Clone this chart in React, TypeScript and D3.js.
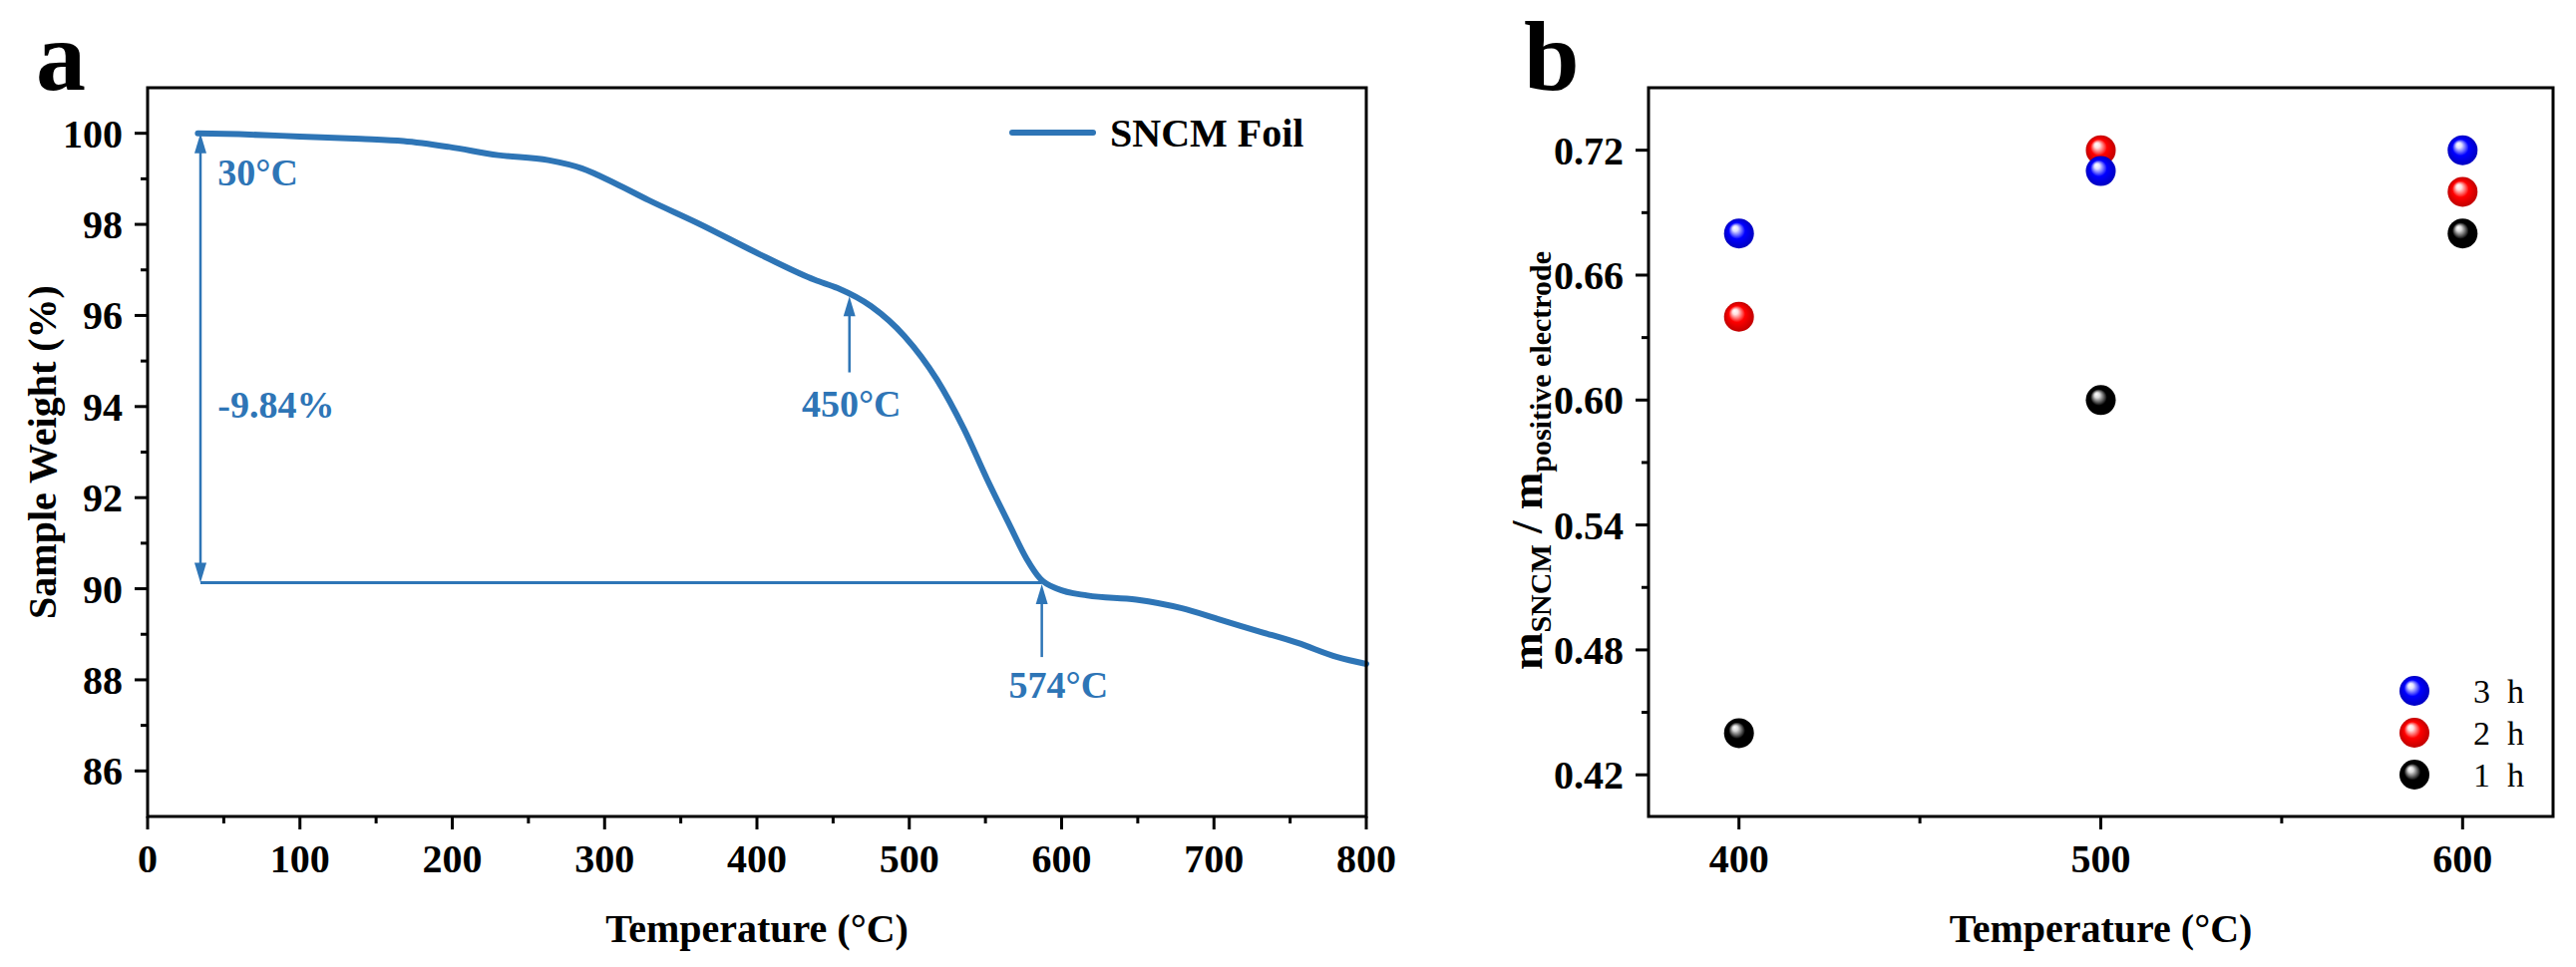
import * as d3 from 'd3';

// panel a: TGA curve, SNCM foil
const tgaTemp = [33, 60, 100, 140, 168, 198, 230, 263, 285, 307, 329, 361, 405, 438, 453, 475, 497, 518, 536, 551, 566, 577, 586, 597, 617, 649, 679, 704, 730, 755, 781, 800];
const tgaWeight = [100.0, 99.98, 99.93, 99.88, 99.83, 99.70, 99.52, 99.41, 99.23, 98.90, 98.53, 98.03, 97.29, 96.78, 96.60, 96.20, 95.54, 94.60, 93.50, 92.41, 91.39, 90.66, 90.22, 90.0, 89.85, 89.76, 89.57, 89.32, 89.06, 88.81, 88.5, 88.35];

// panel b: mass ratio vs temperature, per holding time
const bTemps = [400, 500, 600];
const ratio1h = [0.44, 0.60, 0.68];
const ratio2h = [0.64, 0.72, 0.70];
const ratio3h = [0.68, 0.71, 0.72];

const aXTicks = [0, 100, 200, 300, 400, 500, 600, 700, 800];
const aYTicks = [86, 88, 90, 92, 94, 96, 98, 100];
const bXTicks = [400, 500, 600];
const bYTicks = [0.42, 0.48, 0.54, 0.60, 0.66, 0.72];

const FONT = "'Liberation Serif', 'Times New Roman', serif";
const BLUE = '#2e75b6';

const top = 88;
const bottom = 819;

const xa = d3.scaleLinear().domain([0, 800]).range([148, 1370]);
const ya = d3.scaleLinear().domain([85, 101]).range([bottom, top]);
const xb = d3.scaleLinear().domain([375, 625]).range([1653, 2560]);
const yb = d3.scaleLinear().domain([0.40, 0.75]).range([bottom, top]);

function Frame({ x, y }: { x: d3.ScaleLinear<number, number>; y: d3.ScaleLinear<number, number> }) {
  const [l, r] = x.range();
  const [b, t] = y.range();
  return <rect x={l} y={t} width={r - l} height={b - t} fill="none" stroke="#000" strokeWidth={3} />;
}

function YAxis({ y, x0, major, minor, fmt }: { y: d3.ScaleLinear<number, number>; x0: number; major: number[]; minor: number[]; fmt: (v: number) => string }) {
  return (
    <g>
      {minor.map((v) => (
        <line key={'m' + v} x1={x0 - 7} x2={x0} y1={y(v)} y2={y(v)} stroke="#000" strokeWidth={3} />
      ))}
      {major.map((v) => (
        <g key={v}>
          <line x1={x0 - 13} x2={x0} y1={y(v)} y2={y(v)} stroke="#000" strokeWidth={3} />
          <text x={x0 - 25} y={y(v)} dy="0.35em" textAnchor="end" fontSize={40} fontWeight="bold">
            {fmt(v)}
          </text>
        </g>
      ))}
    </g>
  );
}

function XAxis({ x, y0, major, minor }: { x: d3.ScaleLinear<number, number>; y0: number; major: number[]; minor: number[] }) {
  return (
    <g>
      {minor.map((v) => (
        <line key={'m' + v} x1={x(v)} x2={x(v)} y1={y0} y2={y0 + 7} stroke="#000" strokeWidth={3} />
      ))}
      {major.map((v) => (
        <g key={v}>
          <line x1={x(v)} x2={x(v)} y1={y0} y2={y0 + 13} stroke="#000" strokeWidth={3} />
          <text x={x(v)} y={875} textAnchor="middle" fontSize={40} fontWeight="bold">
            {v}
          </text>
        </g>
      ))}
    </g>
  );
}

// vertical arrow in data coords; heads: 'up', 'down' or 'both'
function VArrow({ t, w1, w2, heads }: { t: number; w1: number; w2: number; heads: string }) {
  const px = xa(t);
  const p1 = ya(w1);
  const p2 = ya(w2);
  const hl = 20;
  const hw = 6;
  const yTop = Math.min(p1, p2);
  const yBot = Math.max(p1, p2);
  return (
    <g fill={BLUE} stroke="none">
      <line x1={px} x2={px} y1={yTop + (heads !== 'down' ? 8 : 0)} y2={yBot - (heads !== 'up' ? 8 : 0)} stroke={BLUE} strokeWidth={2.5} />
      {heads !== 'down' && <path d={`M${px},${yTop} L${px - hw},${yTop + hl} L${px + hw},${yTop + hl} Z`} />}
      {heads !== 'up' && <path d={`M${px},${yBot} L${px - hw},${yBot - hl} L${px + hw},${yBot - hl} Z`} />}
    </g>
  );
}

function Sphere({ cx, cy, id }: { cx: number; cy: number; id: string }) {
  return <circle cx={cx} cy={cy} r={15} fill={`url(#${id})`} />;
}

export default function App() {
  const line = d3
    .line<number>()
    .x((_, i) => xa(tgaTemp[i]))
    .y((d) => ya(d))
    .curve(d3.curveMonotoneX);

  const aMinorY = d3.range(87, 101, 2);
  const aMinorX = d3.range(50, 800, 100);
  const bMinorY = [0.45, 0.51, 0.57, 0.63, 0.69];
  const bMinorX = [450, 550];

  const series = [
    { id: 'g1', vals: ratio1h, label: '1  h', color: '#000000', hi: '#d8d8d8' },
    { id: 'g2', vals: ratio2h, label: '2  h', color: '#ff0000', hi: '#ffe0e0' },
    { id: 'g3', vals: ratio3h, label: '3  h', color: '#0000ff', hi: '#e0e0ff' },
  ];
  const legendOrder = [series[2], series[1], series[0]];

  return (
    <svg width={2583} height={970} style={{ position: 'absolute', left: 0, top: 0, background: '#fff' }} fontFamily={FONT}>
      <defs>
        {series.map((s) => (
          <radialGradient key={s.id} id={s.id} cx="50%" cy="50%" r="50%" fx="35%" fy="30%">
            <stop offset="0%" stopColor="#ffffff" />
            <stop offset="18%" stopColor={s.hi} />
            <stop offset="55%" stopColor={s.color} />
            <stop offset="100%" stopColor={d3.color(s.color)!.darker(0.8).toString()} />
          </radialGradient>
        ))}
      </defs>
      <rect width={2583} height={970} fill="#fff" />

      {/* panel a */}
      <text x={36} y={90} fontSize={100} fontWeight="bold">a</text>
      <path d={line(tgaWeight) || ''} fill="none" stroke={BLUE} strokeWidth={6} strokeLinejoin="round" strokeLinecap="round" />
      <VArrow t={34.7} w1={100} w2={90.13} heads="both" />
      <line x1={xa(34.7)} x2={xa(587)} y1={ya(90.13)} y2={ya(90.13)} stroke={BLUE} strokeWidth={3} />
      <VArrow t={460.7} w1={94.75} w2={96.42} heads="up" />
      <VArrow t={587} w1={88.5} w2={90.1} heads="up" />
      <g fill={BLUE} fontSize={38} fontWeight="bold">
        <text x={xa(46)} y={ya(98.86)}>30°C</text>
        <text x={xa(46)} y={ya(93.76)}>-9.84%</text>
        <text x={xa(462)} y={ya(93.78)} textAnchor="middle">450°C</text>
        <text x={xa(598)} y={ya(87.61)} textAnchor="middle">574°C</text>
      </g>
      <line x1={1015} x2={1096} y1={133} y2={133} stroke={BLUE} strokeWidth={6} strokeLinecap="round" />
      <text x={1113} y={147} fontSize={40} fontWeight="bold">SNCM Foil</text>
      <Frame x={xa} y={ya} />
      <YAxis y={ya} x0={148} major={aYTicks} minor={aMinorY} fmt={(v) => String(v)} />
      <XAxis x={xa} y0={bottom} major={aXTicks} minor={aMinorX} />
      <text transform={`translate(56, ${(top + bottom) / 2}) rotate(-90)`} textAnchor="middle" fontSize={40} fontWeight="bold">
        Sample Weight (%)
      </text>
      <text x={(148 + 1370) / 2} y={945} textAnchor="middle" fontSize={40} fontWeight="bold">
        Temperature (°C)
      </text>

      {/* panel b */}
      <text x={1528} y={90} fontSize={100} fontWeight="bold">b</text>
      <Frame x={xb} y={yb} />
      <YAxis y={yb} x0={1653} major={bYTicks} minor={bMinorY} fmt={(v) => v.toFixed(2)} />
      <XAxis x={xb} y0={bottom} major={bXTicks} minor={bMinorX} />
      {series.map((s) => (
        <g key={s.id}>
          {s.vals.map((v, i) => (
            <Sphere key={i} cx={xb(bTemps[i])} cy={yb(v)} id={s.id} />
          ))}
        </g>
      ))}
      {legendOrder.map((s, i) => (
        <g key={'l' + s.id}>
          <Sphere cx={2421} cy={693 + i * 42} id={s.id} />
          <text x={2480} y={705 + i * 42} fontSize={34} style={{ whiteSpace: 'pre' }}>
            {s.label}
          </text>
        </g>
      ))}
      <text transform={`translate(1546, 462) rotate(-90)`} textAnchor="middle" fontSize={45} fontWeight="bold">
        m<tspan fontSize={30} dy={9}>SNCM</tspan>
        <tspan dy={-9}> / m</tspan>
        <tspan fontSize={30} dy={9}>positive electrode</tspan>
      </text>
      <text x={(1653 + 2560) / 2} y={945} textAnchor="middle" fontSize={40} fontWeight="bold">
        Temperature (°C)
      </text>
    </svg>
  );
}
